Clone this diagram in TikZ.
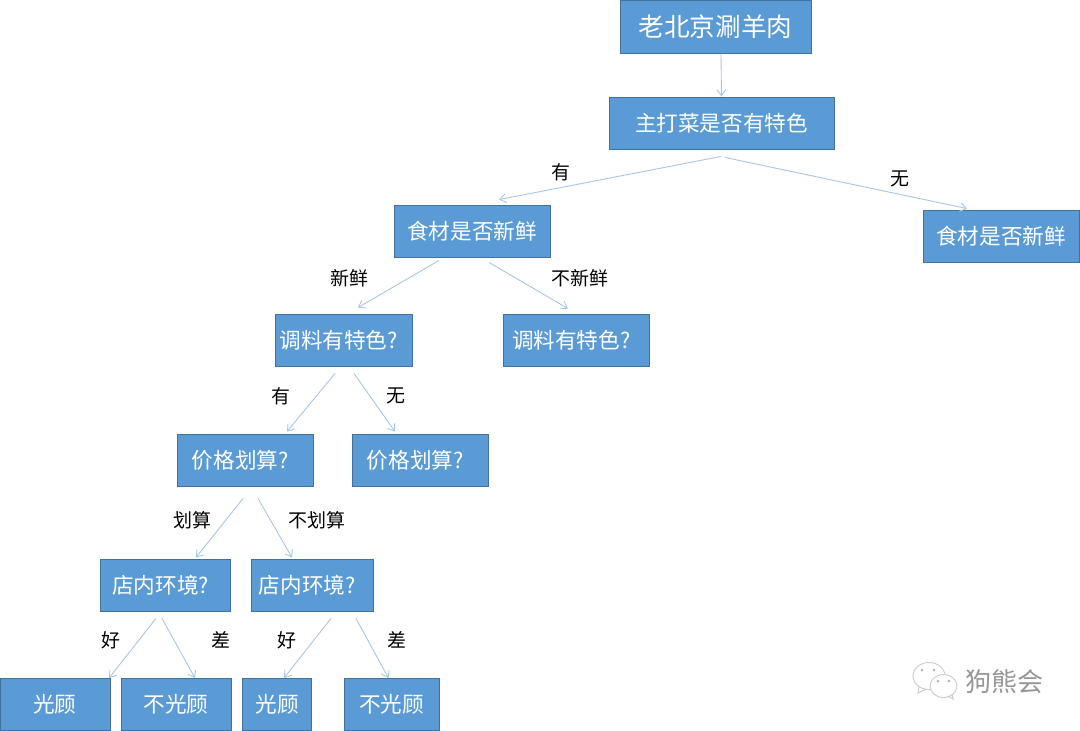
\documentclass[tikz,border=0pt]{standalone}
\usepackage{fontspec}
\setmainfont{Noto Sans CJK SC}
\usetikzlibrary{arrows.meta, positioning, calc}
\definecolor{boxblue}{RGB}{91, 155, 213}
\definecolor{boxline}{RGB}{65, 113, 156}
\definecolor{flowblue}{RGB}{165, 198, 230}
\definecolor{markgray}{RGB}{150, 150, 150}
\newcommand{\askmark}{?\hspace*{5.5pt}}

\tikzset{
    treebox/.style={
        rectangle,
        fill=boxblue,
        draw=boxline,
        line width=0.5pt,
        text=white,
        align=center,
        inner sep=0pt,
        minimum height=52*0.02cm,
        font=\fontsize{12.3pt}{14pt}\selectfont
    },
    flow/.style={
        draw=flowblue,
        line width=0.5pt,
        -{Straight Barb[length=3.5pt,width=5pt]}
    },
    edgetext/.style={
        inner sep=0pt,
        text=black,
        font=\fontsize{10.8pt}{13pt}\selectfont
    }
}

\begin{document}
\begin{tikzpicture}[x=0.02cm, y=-0.02cm]
    \useasboundingbox (0,0) rectangle (1080,731);
    \fill[white] (0,0) rectangle (1080,731);

    % boxes
    \node[treebox, minimum width=191*0.02cm, minimum height=53*0.02cm, font=\fontsize{14.6pt}{17pt}\selectfont] (root) at (715.5,27) {老北京涮羊肉};
    \node[treebox, minimum width=225*0.02cm] (main) at (721.5,123) {主打菜是否有特色};
    \node[treebox, minimum width=156*0.02cm] (freshA) at (472,231) {食材是否新鲜};
    \node[treebox, minimum width=156*0.02cm] (freshB) at (1001,236) {食材是否新鲜};
    \node[treebox, minimum width=137*0.02cm] (sauceA) at (343.5,340) {调料有特色\askmark};
    \node[treebox, minimum width=146*0.02cm] (sauceB) at (576,340) {调料有特色\askmark};
    \node[treebox, minimum width=136*0.02cm] (priceA) at (245,460) {价格划算\askmark};
    \node[treebox, minimum width=136*0.02cm] (priceB) at (420,460) {价格划算\askmark};
    \node[treebox, minimum width=130*0.02cm] (shopA) at (165.5,585) {店内环境\askmark};
    \node[treebox, minimum width=122*0.02cm] (shopB) at (312,585) {店内环境\askmark};
    \node[treebox, minimum width=110*0.02cm] (goA) at (55,704.5) {光顾};
    \node[treebox, minimum width=110*0.02cm] (skipA) at (176,704.5) {不光顾};
    \node[treebox, minimum width=69*0.02cm] (goB) at (277,704.5) {光顾};
    \node[treebox, minimum width=95*0.02cm] (skipB) at (391.5,704.5) {不光顾};

    % connectors
    \draw[flow] ($(root.south)+(5.5,0)$) -- (main.north);
    \draw[flow] ($(main.south)+(-0.5,7)$) -- ($(freshA.north)+(27,-5)$);
    \draw[flow] ($(main.south)+(3.5,8)$) -- ($(freshB.north)+(-34,-1)$);
    \draw[flow] ($(freshA.south)+(-33,3)$) -- ($(sauceA.north)+(14.5,-6)$);
    \draw[flow] ($(freshA.south)+(17,5)$) -- ($(sauceB.north)+(-8,-5)$);
    \draw[flow] ($(sauceA.south)+(-8.5,7)$) -- ($(priceA.north)+(42,-2)$);
    \draw[flow] ($(sauceA.south)+(10.5,7)$) -- ($(priceB.north)+(-25,-2)$);
    \draw[flow] ($(priceA.south)+(-2,12)$) -- ($(shopA.north)+(30.5,-1)$);
    \draw[flow] ($(priceA.south)+(13,12)$) -- ($(shopB.north)+(-20,-1)$);
    \draw[flow] ($(shopA.south)+(-9.5,7)$) -- ($(goA.north)+(54,0)$);
    \draw[flow] ($(shopA.south)+(-3.5,7)$) -- ($(skipA.north)+(19,0)$);
    \draw[flow] ($(shopB.south)+(19,7)$) -- ($(goB.north)+(7,0)$);
    \draw[flow] ($(shopB.south)+(44,7)$) -- ($(skipB.north)+(-3,0)$);

    % edge texts
    \node[edgetext] (hasA) at (561,172) {有};
    \node[edgetext] (noneA) at (900,179) {无};
    \node[edgetext] (freshYes) at (349,278) {新鲜};
    \node[edgetext] (freshNo) at (580,278) {不新鲜};
    \node[edgetext] (hasB) at (281,396) {有};
    \node[edgetext] (noneB) at (396,396) {无};
    \node[edgetext] (worthYes) at (192,520) {划算};
    \node[edgetext] (worthNo) at (317,520) {不划算};
    \node[edgetext] (goodA) at (111,640) {好};
    \node[edgetext] (badA) at (221,640) {差};
    \node[edgetext] (goodB) at (287,640) {好};
    \node[edgetext] (badB) at (397,640) {差};

    % watermark
    \draw[markgray!50, line width=0.5pt, fill=white] (929,676) ellipse (16 and 13.5);
    \draw[markgray!50, line width=0.5pt] (919,686) -- (918,693) -- (926,689);
    \fill[markgray!70] (922,670) circle (1.5) (934,670) circle (1.5);
    \draw[markgray!50, line width=0.5pt, fill=white] (943.5,686) ellipse (13.5 and 11.5);
    \draw[markgray!50, line width=0.5pt] (948,696) -- (953,699) -- (952,694);
    \fill[markgray!70] (938,681) circle (1.5) (949,681) circle (1.5);
    \node[inner sep=0pt, text=markgray, font=\fontsize{14.8pt}{18pt}\selectfont] (mark) at (1004,682) {狗熊会};
\end{tikzpicture}
\end{document}
